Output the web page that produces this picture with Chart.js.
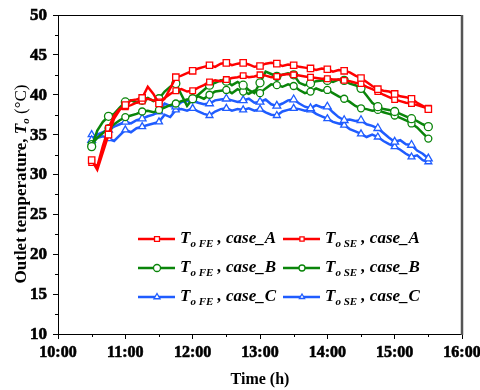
<!DOCTYPE html>
<html>
<head>
<meta charset="utf-8">
<script src="https://cdn.jsdelivr.net/npm/chart.js@4.4.0/dist/chart.umd.min.js"></script>
<style>
  html, body { margin: 0; padding: 0; background: #fff; }
</style>
</head>
<body>
<canvas id="grafico" width="480" height="390"></canvas>
<script>
// horas de medicion (cada 5 min)
const horas = [
  '10:30','10:35','10:40','10:45','10:50','10:55',
  '11:00','11:05','11:10','11:15','11:20','11:25','11:30','11:35','11:40','11:45','11:50','11:55',
  '12:00','12:05','12:10','12:15','12:20','12:25','12:30','12:35','12:40','12:45','12:50','12:55',
  '13:00','13:05','13:10','13:15','13:20','13:25','13:30','13:35','13:40','13:45','13:50','13:55',
  '14:00','14:05','14:10','14:15','14:20','14:25','14:30','14:35','14:40','14:45','14:50','14:55',
  '15:00','15:05','15:10','15:15','15:20','15:25','15:30'
];

const feA = [
  31.8, 30.6, 32.8, 35.0, 37.0, 38.1,
  38.7, 39.3, 39.4, 39.6, 41.0, 40.1, 38.9, 39.5, 40.8, 42.2, 42.4, 42.7,
  43.0, 43.3, 43.5, 43.7, 43.5, 43.9, 44.0, 43.7, 43.9, 44.0, 43.8, 43.5,
  43.6, 43.9, 44.0, 43.9, 43.6, 43.8, 43.7, 43.5, 43.4, 43.3, 43.1, 43.3,
  43.2, 42.9, 43.1, 43.0, 42.8, 42.4, 42.1, 41.6, 41.1, 40.7, 40.5, 40.4,
  40.1, 39.8, 39.7, 39.5, 39.0, 38.6, 38.2
];
const seA = [
  31.5, 31.0, 33.6, 35.8, 37.4, 38.2,
  38.5, 38.7, 39.0, 39.2, 39.5, 39.3, 39.1, 39.6, 40.1, 40.5, 40.7, 40.4,
  40.5, 40.9, 41.2, 41.6, 41.8, 41.7, 41.9, 42.1, 42.2, 42.4, 42.2, 42.3,
  42.5, 42.4, 42.2, 42.3, 42.5, 42.6, 42.5, 42.4, 42.3, 42.2, 42.1, 42.0,
  42.0, 41.9, 41.9, 41.8, 41.7, 41.5, 41.4, 41.0, 40.7, 40.4, 40.0, 39.7,
  39.4, 39.2, 39.0, 38.9, 38.7, 38.5, 38.3
];
const feB = [
  33.5, 35.5, 36.6, 37.3, 37.6, 38.4,
  39.1, 39.3, 39.0, 39.3, 39.6, 39.2, 39.5, 40.4, 41.0, 41.4, 40.0, 38.6,
  39.5, 40.0, 40.6, 41.2, 41.5, 41.8, 41.7, 41.2, 41.6, 41.2, 40.6, 40.2,
  41.5, 42.9, 42.6, 42.3, 42.5, 42.7, 42.5, 41.5, 41.2, 41.4, 41.7, 41.8,
  41.8, 41.6, 41.9, 41.8, 41.4, 41.2, 40.8, 39.9, 39.0, 38.5, 38.2, 38.1,
  37.9, 37.6, 37.3, 37.0, 36.7, 36.3, 36.0
];
const seB = [
  33.8, 34.6, 35.2, 35.8, 36.3, 36.8,
  37.2, 37.4, 37.6, 37.9, 38.0, 37.8, 38.1, 38.4, 38.7, 38.9, 39.2, 39.4,
  39.5, 39.8, 39.5, 40.0, 40.4, 40.5, 40.6, 40.2, 40.7, 40.4, 40.1, 40.5,
  40.2, 40.8, 41.3, 41.2, 41.0, 41.3, 41.1, 40.6, 40.2, 40.4, 40.8, 40.5,
  40.6, 40.2, 39.8, 39.5, 39.1, 38.6, 38.3, 38.2, 38.0, 38.1, 37.8, 37.6,
  37.4, 37.1, 36.8, 36.4, 35.9, 35.2, 34.5
];
const feC = [
  34.3, 35.0, 35.3, 35.6, 36.0, 36.3,
  36.6, 36.4, 36.8, 37.0, 37.3, 37.5, 37.9, 38.9, 38.6, 38.5, 39.1, 39.2,
  39.3, 39.0, 38.8, 38.9, 39.3, 39.4, 39.5, 39.3, 39.1, 39.3, 39.5, 39.0,
  39.1, 39.4, 38.8, 38.6, 38.9, 39.3, 39.4, 38.9, 38.5, 38.3, 38.7, 38.4,
  38.5, 37.8, 37.2, 36.8, 36.9, 36.7, 36.8, 36.3, 36.1, 35.8, 35.2, 34.6,
  34.1, 34.3, 33.8, 33.7, 33.0, 32.6, 32.0
];
const seC = [
  35.0, 34.6, 34.8, 34.5, 34.2, 34.9,
  35.6, 35.3, 35.8, 36.0, 36.2, 36.4, 36.6, 37.5, 37.2, 38.1, 38.2, 38.0,
  38.3, 37.9, 37.6, 37.4, 37.9, 38.2, 38.3, 38.0, 38.2, 38.1, 38.3, 38.0,
  38.2, 37.8, 37.5, 37.4, 37.9, 38.1, 38.3, 38.2, 38.0, 38.1, 37.6, 37.3,
  37.0, 36.6, 36.4, 36.2, 35.7, 35.4, 35.1, 34.7, 35.0, 34.7, 34.2, 33.8,
  33.5, 33.1, 32.6, 32.2, 32.4, 31.8, 31.6
];

const ejeX = [10, 11, 12, 13, 14, 15, 16];
const etiquetasX = ['10:00', '11:00', '12:00', '13:00', '14:00', '15:00', '16:00'];
const ejeY = [10, 15, 20, 25, 30, 35, 40, 45, 50];

const ROJO = '#ff0000';
const VERDE = '#0a850a';
const AZUL = '#1f5cff';
const SERIF = '"Liberation Serif", "Times New Roman", serif';

function aHoras(h) {
  let p = h.split(':');
  return parseInt(p[0]) + parseInt(p[1]) / 60;
}

function serie(nombre, valores, color, estilo, radio) {
  return {
    label: nombre,
    data: horas.map((h, i) => ({ x: aHoras(h), y: valores[i] })),
    borderColor: color,
    borderWidth: 2.5,
    pointStyle: estilo,
    // marcador solo cada 15 min
    pointRadius: ctx => ctx.dataIndex % 3 === 0 ? radio : 0,
    pointHoverRadius: 0,
    pointBackgroundColor: '#fff',
    pointBorderColor: color,
    pointBorderWidth: 1.3,
    tension: 0,
    fill: false
  };
}

const series = [
  { fe: 'FE', caso: 'case_A', ds: serie('FE A', feA, ROJO, 'rect', 4.5) },
  { fe: 'SE', caso: 'case_A', ds: serie('SE A', seA, ROJO, 'rect', 4) },
  { fe: 'FE', caso: 'case_B', ds: serie('FE B', feB, VERDE, 'circle', 4) },
  { fe: 'SE', caso: 'case_B', ds: serie('SE B', seB, VERDE, 'circle', 3.5) },
  { fe: 'FE', caso: 'case_C', ds: serie('FE C', feC, AZUL, 'triangle', 4.5) },
  { fe: 'SE', caso: 'case_C', ds: serie('SE C', seC, AZUL, 'triangle', 4) }
];

// escribe trozos de texto seguidos: [texto, fuente, desplazamiento vertical]
function textoCompuesto(ctx, trozos, x, y, centrado) {
  let ancho = 0;
  trozos.forEach(t => { ctx.font = t[1]; ancho += ctx.measureText(t[0]).width; });
  let cx = centrado ? x - ancho / 2 : x;
  trozos.forEach(t => {
    ctx.font = t[1];
    ctx.fillText(t[0], cx, y + (t[2] || 0));
    cx += ctx.measureText(t[0]).width;
  });
}

// texto un poco mas grueso
function textoGrueso(ctx, txt, x, y) {
  ctx.fillText(txt, x, y);
  ctx.strokeText(txt, x, y);
}

const extras = {
  id: 'extras',
  afterDraw(chart) {
    const ctx = chart.ctx;
    const a = chart.chartArea;
    const sx = chart.scales.x, sy = chart.scales.y;
    ctx.save();

    // marco superior y derecho
    ctx.strokeStyle = '#000';
    ctx.lineWidth = 1;
    ctx.beginPath();
    ctx.moveTo(a.left, a.top + 0.5);
    ctx.lineTo(a.right, a.top + 0.5);
    ctx.stroke();
    ctx.strokeStyle = '#555';
    ctx.lineWidth = 2.5;
    ctx.beginPath();
    ctx.moveTo(a.right, a.top);
    ctx.lineTo(a.right, a.bottom + 1);
    ctx.stroke();

    // ticks menores
    ctx.strokeStyle = '#000';
    ctx.lineWidth = 1;
    ctx.beginPath();
    for (let i = 0; i < ejeY.length - 1; i++) {
      let py = Math.round(sy.getPixelForValue(ejeY[i] + 2.5)) + 0.5;
      ctx.moveTo(a.left - 3, py);
      ctx.lineTo(a.left, py);
    }
    for (let i = 0; i < ejeX.length - 1; i++) {
      let px = Math.round(sx.getPixelForValue(ejeX[i] + 0.5)) + 0.5;
      ctx.moveTo(px, a.bottom);
      ctx.lineTo(px, a.bottom + 3);
    }
    ctx.stroke();

    // etiquetas de los ejes
    ctx.fillStyle = '#000';
    ctx.strokeStyle = '#000';
    ctx.lineWidth = 0.6;
    ctx.font = 'bold 16px ' + SERIF;
    ctx.textAlign = 'center';
    ctx.textBaseline = 'middle';
    ejeX.forEach((v, i) => textoGrueso(ctx, etiquetasX[i], sx.getPixelForValue(v), a.bottom + 19));
    ctx.font = 'bold 17px ' + SERIF;
    ctx.textAlign = 'right';
    ejeY.forEach(v => textoGrueso(ctx, String(v), a.left - 11, sy.getPixelForValue(v) + 0.5));
    ctx.textAlign = 'left';

    // titulo eje Y
    ctx.translate(22, 184);
    ctx.rotate(-Math.PI / 2);
    textoCompuesto(ctx, [
      ['Outlet temperature, ', 'bold 17px ' + SERIF],
      ['T', 'italic bold 17px ' + SERIF],
      ['o', 'italic bold 11px ' + SERIF, 4],
      [' (\u00B0C)', '17px ' + SERIF]
    ], 0, 0, true);
    ctx.restore();

    // leyenda
    ctx.save();
    const columnas = [138, 283];
    const filas = [239, 268, 297];
    series.forEach((s, i) => {
      let x0 = columnas[i % 2];
      let y0 = filas[Math.floor(i / 2)];
      let d = s.ds;
      ctx.strokeStyle = d.borderColor;
      ctx.lineWidth = 2.5;
      ctx.beginPath();
      ctx.moveTo(x0, y0);
      ctx.lineTo(x0 + 37, y0);
      ctx.stroke();
      ctx.fillStyle = '#fff';
      ctx.strokeStyle = d.borderColor;
      ctx.lineWidth = 1.3;
      Chart.helpers.drawPoint(ctx, {
        pointStyle: d.pointStyle,
        radius: s.fe === 'FE' ? 3.5 : 3,
        borderWidth: 1.3,
        rotation: 0
      }, x0 + 19, y0);
      ctx.fillStyle = '#000';
      ctx.textBaseline = 'middle';
      textoCompuesto(ctx, [
        ['T', 'italic bold 17px ' + SERIF],
        ['o ' + s.fe, 'italic bold 11px ' + SERIF, 5],
        [' , ' + s.caso, 'italic bold 17px ' + SERIF]
      ], x0 + 42, y0, false);
    });
    ctx.restore();
  }
};

Chart.defaults.font.family = SERIF;
Chart.defaults.color = '#000';

new Chart(document.getElementById('grafico'), {
  type: 'line',
  data: { datasets: series.map(s => s.ds) },
  options: {
    responsive: false,
    animation: false,
    devicePixelRatio: 1,
    layout: { padding: { top: 15, right: 18, left: 0, bottom: 0 } },
    plugins: { legend: { display: false }, tooltip: { enabled: false } },
    scales: {
      x: {
        type: 'linear',
        min: 10,
        max: 16,
        afterBuildTicks: s => { s.ticks = ejeX.map(v => ({ value: v })); },
        ticks: { display: false },
        grid: { drawOnChartArea: false, drawTicks: true, tickLength: 5, color: '#000' },
        border: { color: '#000', width: 1 },
        title: {
          display: true,
          text: 'Time (h)',
          font: { size: 16, weight: 'bold', family: SERIF },
          padding: { top: 0, bottom: 1 }
        },
        afterFit: s => { s.height = 56; s.paddingLeft = 0; s.paddingRight = 0; }
      },
      y: {
        min: 10,
        max: 50,
        afterBuildTicks: s => { s.ticks = ejeY.map(v => ({ value: v })); },
        ticks: { display: false },
        grid: { drawOnChartArea: false, drawTicks: true, tickLength: 5, color: '#000' },
        border: { color: '#000', width: 1 },
        afterFit: s => { s.width = 58; s.paddingTop = 0; s.paddingBottom = 0; }
      }
    }
  },
  plugins: [extras]
});
</script>
</body>
</html>
